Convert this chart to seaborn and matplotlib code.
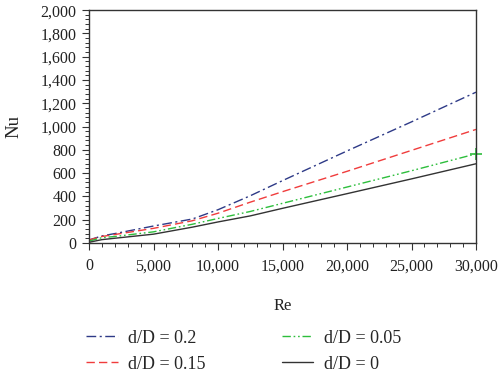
import matplotlib
matplotlib.use("Agg")
import matplotlib.pyplot as plt
import seaborn as sns
import numpy as np
import pandas as pd
from matplotlib.ticker import MultipleLocator, FuncFormatter

re_vals = [0, 1000, 2000, 5000, 8000, 10000, 12500, 15000, 20000, 25000, 30000]
nu_02 = [25, 60, 80, 145, 205, 285, 405, 535, 790, 1040, 1295]
nu_015 = [25, 55, 72, 125, 190, 255, 350, 440, 615, 795, 975]
nu_005 = [15, 45, 55, 95, 160, 210, 270, 340, 480, 620, 765]
nu_0 = [5, 28, 40, 75, 135, 180, 232, 297, 423, 550, 680]

labels = ["d/D = 0.2", "d/D = 0.15", "d/D = 0.05", "d/D = 0"]
series = [nu_02, nu_015, nu_005, nu_0]
colors = ["#2E3A87", "#F03C3C", "#2DBE3C", "#333333"]
dashes = [(7, 2.5, 1.5, 2.5), (6, 3), (6, 2, 1.2, 2, 1.2, 2), None]

sns.set_style("ticks")
plt.rcParams["font.family"] = ["Liberation Serif", "DejaVu Serif"]

fig = plt.figure(figsize=(5.0, 3.76), dpi=100)
ax = fig.add_axes([0.178, 0.354, 0.774, 0.619])

handles = []
for lab, ys, c, d in zip(labels, series, colors, dashes):
    df = pd.DataFrame({"Re": re_vals, "Nu": ys})
    sns.lineplot(data=df, x="Re", y="Nu", ax=ax, color=c, lw=1.0, legend=False)
    ln = ax.lines[-1]
    if d is not None:
        ln.set_dashes(d)
    handles.append(ln)

# end marker on green curve
ax.plot([re_vals[-1]], [nu_005[-1]], marker="+", color=colors[2], ms=9, mew=1.2, ls="none", clip_on=False)

ax.set_xlim(0, 30000)
ax.set_ylim(0, 2000)
ax.xaxis.set_major_locator(MultipleLocator(5000))
ax.xaxis.set_minor_locator(MultipleLocator(1000))
ax.yaxis.set_major_locator(MultipleLocator(200))
ax.yaxis.set_minor_locator(MultipleLocator(40))
fmt = FuncFormatter(lambda v, p: f"{int(v):,}")
ax.xaxis.set_major_formatter(fmt)
ax.yaxis.set_major_formatter(fmt)
ax.tick_params(which="major", length=5, width=0.8, labelsize=11.5, color="#333333", labelcolor="#222222")
ax.tick_params(which="minor", length=3, width=0.7, color="#333333")
ax.tick_params(axis="x", which="major", pad=6)
ax.tick_params(axis="y", which="major", pad=4)
ax.tick_params(top=False, right=False)
for s in ax.spines.values():
    s.set_visible(True)
    s.set_color("#333333")
    s.set_linewidth(1.0)

ax.set_xlabel("Re", fontsize=12, labelpad=17, color="#222222")
ax.set_ylabel("Nu", fontsize=13.5, labelpad=13, color="#222222")

order = [0, 1, 2, 3]
fig.legend([handles[i] for i in order], [labels[i] for i in order],
           loc="upper left", bbox_to_anchor=(0.172, 0.123), ncol=2, frameon=False,
           fontsize=13, handlelength=1.75, handletextpad=0.6, columnspacing=4.2,
           labelspacing=0.5, borderaxespad=0, borderpad=0)

fig.savefig("out.png", dpi=100)
